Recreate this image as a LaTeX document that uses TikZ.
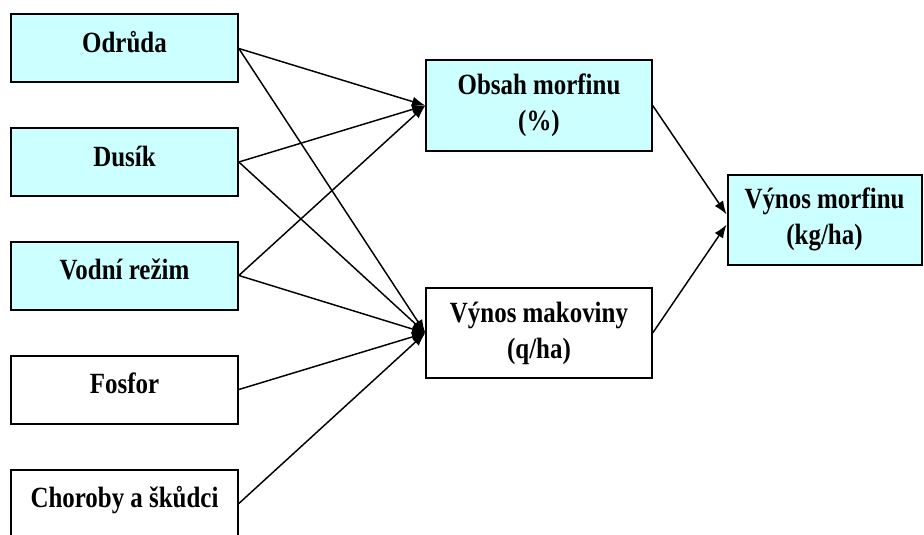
\documentclass[tikz,border=0pt]{standalone}
\usepackage{fontspec}
\setmainfont[FakeStretch=0.85]{Liberation Serif}
\usepackage{tikz}
\usetikzlibrary{arrows.meta}
\definecolor{boxcyan}{RGB}{204,255,255}

\begin{document}
\begin{tikzpicture}[x=0.75pt,y=-0.75pt,
        box/.style={draw,line width=1.5pt,align=center,
            font=\fontsize{22}{27}\selectfont\bfseries},
        leftbox/.style={box,minimum width=170pt,minimum height=51pt,
            text height=14pt,text depth=8pt},
        midbox/.style={box,minimum width=169pt,minimum height=67.5pt},
        arr/.style={line width=1.1pt,-{Latex[length=10pt,width=7.5pt]}}]
        \clip (0,0) rectangle (924,535);
        \node[leftbox,fill=boxcyan] (odruda) at (124.5,48.5) {Odrůda};
        \node[leftbox,fill=boxcyan] (dusik) at (124.5,162) {Dusík};
        \node[leftbox,fill=boxcyan] (vodni) at (124.5,275.5) {Vodní režim};
        \node[leftbox] (fosfor) at (124.5,389.5) {Fosfor};
        \node[leftbox] (choroby) at (124.5,503.5) {Choroby a škůdci};
        \node[midbox,fill=boxcyan] (obsah) at (539,105.5) {Obsah morfinu\\(\%)};
        \node[midbox] (makovina) at (539,333) {Výnos makoviny\\(q/ha)};
        \node[midbox,minimum width=145.5pt,fill=boxcyan] (vynos) at (824.5,219.5) {Výnos morfinu\\(kg/ha)};
        \draw[arr] (odruda.east) -- (obsah.west);
        \draw[arr] (odruda.east) -- (makovina.west);
        \draw[arr] (dusik.east) -- (obsah.west);
        \draw[arr] (dusik.east) -- (makovina.west);
        \draw[arr] (vodni.east) -- (obsah.west);
        \draw[arr] (vodni.east) -- (makovina.west);
        \draw[arr] (fosfor.east) -- (makovina.west);
        \draw[arr] (choroby.east) -- (makovina.west);
        \draw[arr] (obsah.east) -- (vynos.177);
        \draw[arr] (makovina.east) -- (vynos.183);
\end{tikzpicture}
\end{document}
